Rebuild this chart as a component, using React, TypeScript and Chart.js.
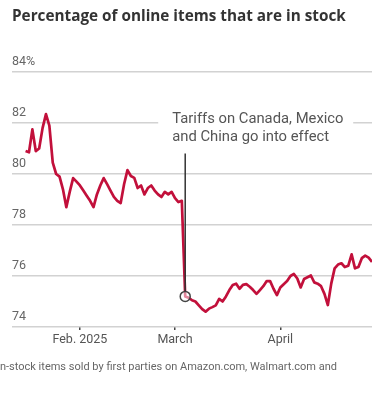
import React, { useEffect, useRef } from 'react';
import { Chart, registerables } from 'chart.js';

Chart.register(...registerables);

// Day offsets are counted from Feb. 1, 2025 (0). Series starts Jan. 16 (-16).
const firstDay = -16;
const inStockPct = [
  80.9, 80.85, 81.75, 80.9, 81.0, 81.8, 82.35, 81.9, 80.45, 80.0, 79.9, 79.4, 78.7, 79.3, 79.84, 79.7,
  79.55, 79.35, 79.15, 78.95, 78.7, 79.2, 79.55, 79.84, 79.6, 79.35, 79.1, 78.95, 78.86, 79.6,
  80.15, 79.92, 79.85, 79.45, 79.55, 79.2, 79.45, 79.55, 79.35, 79.2, 79.1, 79.3, 79.2, 79.3,
  79.05, 78.9, 78.95, 75.2, 75.15, 75.05, 75.0, 74.85, 74.7, 74.6, 74.72, 74.78, 74.85, 75.1,
  75.0, 75.2, 75.45, 75.65, 75.7, 75.5, 75.65, 75.68, 75.58, 75.45, 75.3, 75.45, 75.6, 75.8,
  75.8, 75.5, 75.25, 75.55, 75.68, 75.8, 76.0, 76.08, 75.9, 75.55, 75.88, 75.95, 76.02, 75.75,
  75.7, 75.6, 75.3, 74.86, 75.7, 76.3, 76.45, 76.5, 76.35, 76.4, 76.85, 76.3, 76.35, 76.7,
  76.8, 76.72, 76.55,
];

const xMin = -20;
const xMax = 86;
const xTickDays = [0, 28, 59];
const xTickLabels = ['Feb. 2025', 'March', 'April'];

const yMin = 74;
const yMax = 84;
const yTickValues = [74, 76, 78, 80, 82, 84];
const yTickLabels = ['74', '76', '78', '80', '82', '84%'];

const tariffDay = 31; // March 4
const noteTopValue = 80.8;
const noteLabelValue = 82;
const noteLines = ['Tariffs on Canada, Mexico', 'and China go into effect'];

const titleText = 'Percentage of online items that are in stock';
const footerText = 'n-stock items sold by first parties on Amazon.com, Walmart.com and';

const FONT = 'Roboto, "Noto Sans", sans-serif';
const TITLE_FONT = '"Open Sans", Roboto, sans-serif';

export default function App() {
  const canvasRef = useRef<HTMLCanvasElement | null>(null);

  useEffect(() => {
    const canvas = canvasRef.current;
    if (!canvas) return;
    const points = inStockPct.map((v, i) => ({ x: firstDay + i, y: v }));
    const tariffIndex = tariffDay - firstDay;

    const notePlugin = {
      id: 'tariffNote',
      afterDatasetsDraw(chart: any) {
        const { ctx, scales } = chart;
        const y = scales.y;
        const meta = chart.getDatasetMeta(0);
        const pt = meta.data[tariffIndex];
        if (!pt) return;
        const lx = pt.x;
        const ly = pt.y;
        const top = y.getPixelForValue(noteTopValue);
        ctx.save();
        ctx.strokeStyle = '#333';
        ctx.lineWidth = 1.5;
        ctx.beginPath();
        ctx.moveTo(lx, top);
        ctx.lineTo(lx, ly - 5);
        ctx.stroke();
        const textY = y.getPixelForValue(noteLabelValue) - 4;
        ctx.fillStyle = '#fff';
        ctx.fillRect(lx - 27, textY - 10, 195, 30);
        ctx.fillStyle = '#555';
        ctx.font = `14.8px ${FONT}`;
        ctx.textBaseline = 'middle';
        ctx.textAlign = 'left';
        noteLines.forEach((l, i) => ctx.fillText(l, lx - 13, textY + i * 18));
        ctx.restore();
      },
    };

    const chart = new Chart(canvas, {
      type: 'line',
      data: {
        datasets: [
          {
            data: points,
            borderColor: '#c2103b',
            borderWidth: 2.7,
            borderJoinStyle: 'round',
            tension: 0,
            pointRadius: (c: any) => (c.dataIndex === tariffIndex ? 5 : 0),
            pointHoverRadius: 0,
            pointBorderWidth: 1.5,
            pointBorderColor: '#444',
            pointBackgroundColor: 'rgba(255,255,255,0.5)',
          },
        ],
      },
      options: {
        animation: false,
        responsive: false,
        devicePixelRatio: 1,
        layout: { padding: { top: 72, left: 12, right: 3, bottom: 0 } },
        plugins: { legend: { display: false }, tooltip: { enabled: false } },
        scales: {
          x: {
            type: 'linear',
            min: xMin,
            max: xMax,
            afterFit: (axis: any) => {
              axis.height = 75;
            },
            afterBuildTicks: (axis: any) => {
              axis.ticks = xTickDays.map((v) => ({ value: v }));
            },
            border: { display: false },
            grid: {
              drawOnChartArea: false,
              drawTicks: true,
              tickLength: 3,
              color: '#444',
              lineWidth: 1.5,
            },
            ticks: {
              autoSkip: false,
              maxRotation: 0,
              padding: 2,
              color: '#555',
              font: { family: FONT, size: 12.5 },
              callback: (v: any) => {
                const i = xTickDays.indexOf(Number(v));
                return i >= 0 ? xTickLabels[i] : '';
              },
            },
          },
          y: {
            min: yMin,
            max: yMax,
            afterFit: (axis: any) => {
              axis.width = 0;
            },
            afterBuildTicks: (axis: any) => {
              axis.ticks = yTickValues.map((v) => ({ value: v }));
            },
            border: { display: false },
            grid: { color: '#d2d2d2', lineWidth: 1.5, drawTicks: false },
            ticks: {
              mirror: true,
              padding: 0,
              labelOffset: -10,
              color: '#666',
              font: { family: FONT, size: 12.5 },
              callback: (v: any) => {
                const i = yTickValues.indexOf(Number(v));
                return i >= 0 ? yTickLabels[i] : '';
              },
            },
          },
        },
      },
      plugins: [notePlugin],
    } as any);

    return () => chart.destroy();
  }, []);

  return (
    <div style={{ position: 'absolute', top: 0, left: 0, width: 375, height: 402, background: '#fff', overflow: 'hidden' }}>
      <canvas ref={canvasRef} width={375} height={402} style={{ position: 'absolute', top: 0, left: 0, width: 375, height: 402 }} />
      <div
        style={{
          position: 'absolute',
          top: 5,
          left: 12,
          fontFamily: TITLE_FONT,
          fontWeight: 700,
          fontSize: 15.3,
          lineHeight: '20px',
          color: '#333',
          whiteSpace: 'nowrap',
        }}
      >
        {titleText}
      </div>
      <div
        style={{
          position: 'absolute',
          top: 360,
          left: 0,
          fontFamily: FONT,
          fontSize: 11,
          lineHeight: '14px',
          color: '#666',
          whiteSpace: 'nowrap',
        }}
      >
        {footerText}
      </div>
    </div>
  );
}
